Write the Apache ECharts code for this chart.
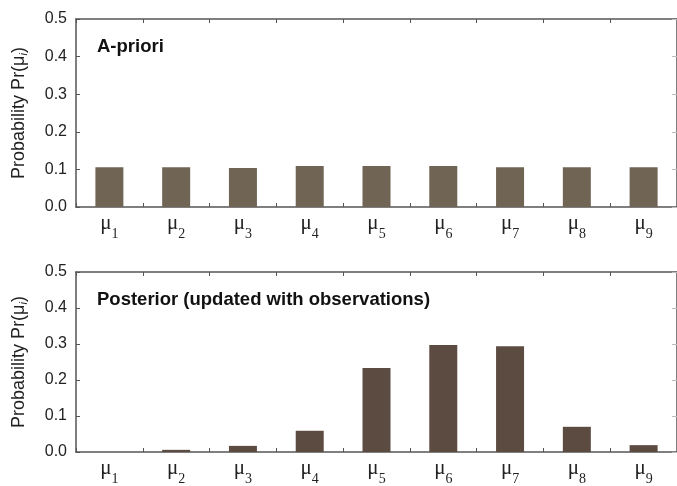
<!DOCTYPE html>
<html>
<head>
<meta charset="utf-8">
<script src="https://cdn.jsdelivr.net/npm/echarts@6/dist/echarts.min.js"></script>
<style>
  html, body { margin: 0; padding: 0; background: #fff; }
  #chart { width: 677px; height: 486px; }
</style>
</head>
<body>
<div id="chart"></div>
<script>
// States mu_1 .. mu_9
const states = ['1', '2', '3', '4', '5', '6', '7', '8', '9'];
// Prior probability of each state
const priorProb = [0.106, 0.106, 0.104, 0.109, 0.109, 0.109, 0.106, 0.106, 0.106];
// Posterior probability after the observations
const posteriorProb = [0.0, 0.006, 0.017, 0.059, 0.233, 0.297, 0.294, 0.070, 0.019];
// Y tick values
const yTicks = [0.0, 0.1, 0.2, 0.3, 0.4, 0.5];

const panelTitles = ['A-priori', 'Posterior (updated with observations)'];
const axisColor = '#555';
const sansFont = '"Liberation Sans", Arial, sans-serif';
const serifFont = '"Liberation Serif", "Times New Roman", serif';

const chart = echarts.init(document.getElementById('chart'), null, { renderer: 'canvas' });

const grids = [
  { left: 76, top: 19, width: 606, height: 188 },
  { left: 76, top: 272, width: 606, height: 187.5 }
];

const xAxes = [];
const yAxes = [];
const series = [];
const titles = [];

grids.forEach((g, i) => {
  // bottom category axis with mu labels
  xAxes.push({
    type: 'category', gridIndex: i, data: states, position: 'bottom',
    boundaryGap: true,
    axisLine: { onZero: false, lineStyle: { color: axisColor, width: 1.5 } },
    axisTick: { show: true, interval: 0, inside: true, length: 4, lineStyle: { color: axisColor } },
    axisLabel: {
      interval: 0, margin: 6,
      formatter: v => '{m|\u03BC}{s|' + v + '}',
      rich: {
        m: { fontFamily: serifFont, fontSize: 21, color: '#222', verticalAlign: 'top', lineHeight: 22 },
        s: { fontFamily: serifFont, fontSize: 14, color: '#222', verticalAlign: 'top', lineHeight: 30, padding: [14, 0, 0, 0] }
      }
    }
  });
  // top frame axis
  xAxes.push({
    type: 'category', gridIndex: i, data: states, position: 'top',
    axisLine: { onZero: false, lineStyle: { color: axisColor, width: 1.5 } },
    axisTick: { show: true, interval: 0, inside: true, length: 4, lineStyle: { color: axisColor } },
    axisLabel: { show: false }
  });
  yAxes.push({
    type: 'value', gridIndex: i, min: 0, max: 0.5, interval: 0.1, position: 'left',
    splitLine: { show: false },
    axisLine: { show: true, onZero: false, lineStyle: { color: axisColor, width: 1.5 } },
    axisTick: { show: true, inside: true, length: 4, lineStyle: { color: axisColor } },
    axisLabel: {
      margin: 9, fontFamily: sansFont, fontSize: 16, color: '#222',
      formatter: v => yTicks.includes(Math.round(v * 10) / 10) ? v.toFixed(1) : ''
    },
    name: '{t|Probability Pr(\u03BC}{i|i}{t|)}',
    nameLocation: 'middle', nameGap: 47, nameRotate: 90,
    nameTextStyle: {
      rich: {
        t: { fontFamily: sansFont, fontSize: 18, color: '#222' },
        i: { fontFamily: sansFont, fontSize: 11, fontStyle: 'italic', color: '#222', padding: [8, 0, 0, 0] }
      }
    }
  });
  yAxes.push({
    type: 'value', gridIndex: i, min: 0, max: 0.5, interval: 0.1, position: 'right',
    splitLine: { show: false },
    axisLine: { show: true, onZero: false, lineStyle: { color: axisColor, width: 1.5 } },
    axisTick: { show: true, inside: true, length: 5, lineStyle: { color: '#bbb' } },
    axisLabel: { show: false }
  });
  titles.push({
    text: panelTitles[i], left: 92, top: g.top + 13,
    textStyle: { fontFamily: sansFont, fontWeight: 'bold', fontSize: 18.5, color: '#111' }
  });
});

series.push({
  type: 'bar', xAxisIndex: 0, yAxisIndex: 0, data: priorProb, barWidth: 28,
  itemStyle: { color: '#706455' }, silent: true
});
series.push({
  type: 'bar', xAxisIndex: 2, yAxisIndex: 2, data: posteriorProb, barWidth: 28,
  itemStyle: { color: '#5c4b41' }, silent: true
});

chart.setOption({
  animation: false,
  backgroundColor: '#fff',
  title: titles,
  grid: grids,
  xAxis: xAxes,
  yAxis: yAxes,
  series: series
});
</script>
</body>
</html>
